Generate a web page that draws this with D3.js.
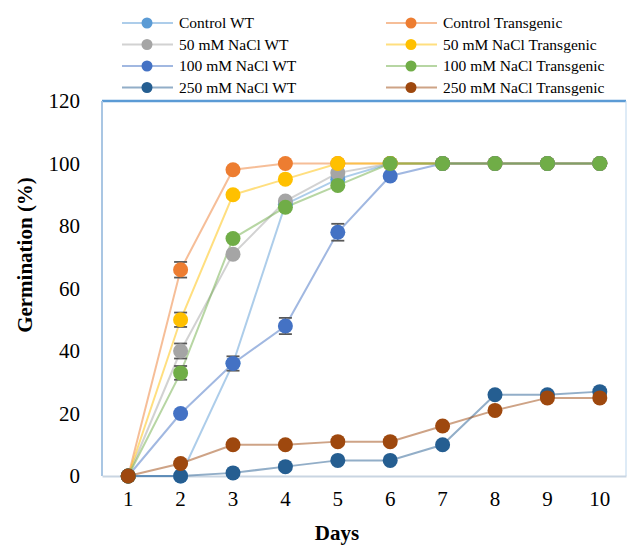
<!DOCTYPE html>
<html><head><meta charset="utf-8">
<script src="https://cdn.jsdelivr.net/npm/d3@7"></script>
<style>body{margin:0;background:#fff}svg{display:block}svg text{font-family:'Liberation Serif','Times New Roman',serif}</style>
</head><body>
<script>
const days = [1,2,3,4,5,6,7,8,9,10];
const yTicks = [0,20,40,60,80,100,120];
const seriesNames = ["Control WT","Control Transgenic","50 mM NaCl WT","50 mM NaCl Transgenic","100 mM NaCl WT","100 mM NaCl Transgenic","250 mM NaCl WT","250 mM NaCl Transgenic"];
const controlWT   = [0,0,36,87,95,100,100,100,100,100];
const controlTG   = [0,66,98,100,100,100,100,100,100,100];
const nacl50WT    = [0,40,71,88,97,100,100,100,100,100];
const nacl50TG    = [0,50,90,95,100,100,100,100,100,100];
const nacl100WT   = [0,20,36,48,78,96,100,100,100,100];
const nacl100TG   = [0,33,76,86,93,100,100,100,100,100];
const nacl250WT   = [0,0,1,3,5,5,10,26,26,27];
const nacl250TG   = [0,4,10,10,11,11,16,21,25,25];
const errControlTG = [0,2.5,0,0,0,0,0,0,0,0];
const err50WT      = [0,2.4,0,0,0,0,0,0,0,0];
const err50TG      = [0,2.3,0,0,0,0,0,0,0,0];
const err100WT     = [0,0,2.3,2.6,2.7,0,0,0,0,0];
const err100TG     = [0,2.2,0,0,0,0,0,0,0,0];
const zeros = [0,0,0,0,0,0,0,0,0,0];
const markerColors = ["#5B9BD5","#ED7D31","#A5A5A5","#FFC000","#4472C4","#70AD47","#255E91","#9E480E"];

const series = [
  {name:seriesNames[0], v:controlWT, e:zeros},
  {name:seriesNames[1], v:controlTG, e:errControlTG},
  {name:seriesNames[2], v:nacl50WT, e:err50WT},
  {name:seriesNames[3], v:nacl50TG, e:err50TG},
  {name:seriesNames[4], v:nacl100WT, e:err100WT},
  {name:seriesNames[5], v:nacl100TG, e:err100TG},
  {name:seriesNames[6], v:nacl250WT, e:zeros},
  {name:seriesNames[7], v:nacl250TG, e:zeros}
].map((s,i)=>({...s, color:markerColors[i]}));

const W=627,H=547;
const svg=d3.select("body").append("svg").attr("width",W).attr("height",H);
const L=102,R=626,T=101,B=476;
const x=d3.scaleBand().domain(days).range([L,R]);
const y=d3.scaleLinear().domain([0,120]).range([B,T]);
const cx=d=>x(d)+x.bandwidth()/2;
const font="'Liberation Serif','Times New Roman',serif";

// frame
svg.append("line").attr("x1",L).attr("x2",R).attr("y1",T).attr("y2",T).attr("stroke","#5B9BD5").attr("stroke-width",2.5);
svg.append("line").attr("x1",R).attr("x2",R).attr("y1",T).attr("y2",B).attr("stroke","#BDD7EE").attr("stroke-width",1);
svg.append("line").attr("x1",L).attr("x2",L).attr("y1",T).attr("y2",B).attr("stroke","#A9C6E3").attr("stroke-width",2);

// axes
const yAx=svg.append("g").attr("transform",`translate(${L},0)`).call(d3.axisLeft(y).tickValues(yTicks).tickSize(0).tickPadding(22));
yAx.attr("font-family",font).attr("font-size",21);
yAx.select(".domain").remove();
yAx.selectAll("text").style("font-family",font).style("font-size","21px").attr("fill","#000");
const xAx=svg.append("g").attr("transform",`translate(0,${B})`).call(d3.axisBottom(x).tickSize(0).tickPadding(15));
xAx.attr("font-family",font).attr("font-size",21);
xAx.select(".domain").attr("stroke","#C9D5E2").attr("stroke-width",2);
xAx.selectAll("text").style("font-family",font).style("font-size","21px").attr("fill","#000");

svg.append("text").attr("x",(L+R)/2-27).attr("y",540).attr("text-anchor","middle").style("font-family",font).attr("font-weight","bold").attr("font-size",21).text("Days");
svg.append("text").attr("transform","translate(32,255) rotate(-90)").attr("text-anchor","middle").style("font-family",font).attr("font-weight","bold").attr("font-size",21).text("Germination (%)");

// lines
const line=d3.line().x((d,i)=>cx(days[i])).y(d=>y(d));
const g=svg.append("g");
series.forEach(s=>{
  g.append("path").attr("d",line(s.v)).attr("fill","none").attr("stroke",s.color).attr("stroke-opacity",0.5).attr("stroke-width",2);
});
series.forEach(s=>{
  const gg=g.append("g");
  s.v.forEach((v,i)=>{
    const e=s.e[i];
    if(e>0){
      const X=cx(days[i]);
      gg.append("line").attr("x1",X).attr("x2",X).attr("y1",y(v+e)).attr("y2",y(v-e)).attr("stroke","#595959").attr("stroke-width",1.2);
      [v+e,v-e].forEach(t=>gg.append("line").attr("x1",X-6.5).attr("x2",X+6.5).attr("y1",y(t)).attr("y2",y(t)).attr("stroke","#595959").attr("stroke-width",1.8));
    }
  });
  gg.selectAll("circle").data(s.v).join("circle").attr("cx",(d,i)=>cx(days[i])).attr("cy",d=>y(d)).attr("r",7.5).attr("fill",s.color);
});

// legend
const leg=svg.append("g");
series.forEach((s,i)=>{
  const col=i%2,row=Math.floor(i/2);
  const x0=col===0?122:386, yy=23+row*21.5;
  leg.append("line").attr("x1",x0).attr("x2",x0+51).attr("y1",yy).attr("y2",yy).attr("stroke",s.color).attr("stroke-opacity",0.5).attr("stroke-width",2);
  leg.append("circle").attr("cx",x0+25).attr("cy",yy).attr("r",5.5).attr("fill",s.color);
  leg.append("text").attr("x",x0+57).attr("y",yy).attr("dy","0.35em").style("font-family",font).attr("font-size",15.5).attr("fill","#000").text(s.name);
});
</script>
</body></html>
